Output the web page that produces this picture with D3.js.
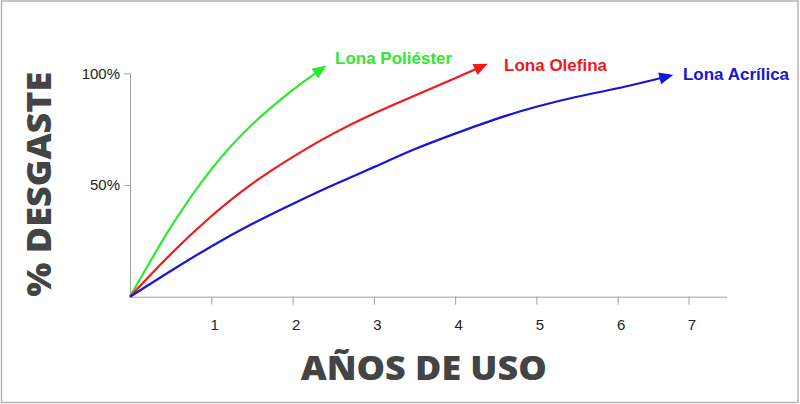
<!DOCTYPE html>
<html>
<head>
<meta charset="utf-8">
<script src="https://cdn.jsdelivr.net/npm/d3@7"></script>
<style>
  body { margin: 0; background: #fff; }
  svg { display: block; }
  .tick text { font-family: "Liberation Sans", Arial, sans-serif; fill: #222; }
  .domain, .tick line { stroke: #a0a0a0; }
</style>
</head>
<body>
<div id="chart-area"></div>
<script>
// data: wear (%) against years of use
const seriesNames = ["Lona Poliéster", "Lona Olefina", "Lona Acrílica"]
const seriesColors = ["#2ee82e", "#f01818", "#1515d8"]

const polyesterYears = [0, 0.5, 1, 1.5, 2, 2.28]
const polyesterWear = [0, 31, 57, 77, 92.5, 100]

const olefinYears = [0, 0.5, 1, 1.5, 2, 2.5, 3, 3.5, 4, 4.25]
const olefinWear = [0, 19, 36, 50.5, 62.5, 73, 82, 90, 97.8, 101.8]

const acrylicYears = [0, 0.5, 1, 1.5, 2, 2.5, 3, 3.5, 4, 4.5, 5, 5.5, 6, 6.6]
const acrylicWear = [0, 11.5, 22.5, 32.5, 41.5, 50, 58, 66, 73, 79.5, 85, 89.5, 93.3, 97.8]

const xTicks = [1, 2, 3, 4, 5, 6, 7]
const yTicks = [50, 100]
const yTickLabels = ["50%", "100%"]

const xTitle = "AÑOS DE USO"
const yTitle = "% DESGASTE"

// label offsets from the end of each line (px)
const labelOffsets = [[19.7, -9.3], [28.6, 2], [22.8, 1.8]]

function drawChart() {
    const svgWidth = 800
    const svgHeight = 404

    const dataset = [
        d3.zip(polyesterYears, polyesterWear),
        d3.zip(olefinYears, olefinWear),
        d3.zip(acrylicYears, acrylicWear)
    ]

    // the original x axis squeezes the last year a bit
    const xScale = d3.scaleLinear()
        .domain([0, 6, 7.54])
        .range([130, 617.7, 726.7])

    const yScale = d3.scaleLinear()
        .domain([0, 100])
        .range([296.7, 73.3])

    const svg = d3.select("#chart-area")
        .append("svg")
        .attr("width", svgWidth)
        .attr("height", svgHeight)

    // frame
    svg.append("rect")
        .attr("x", 1.5)
        .attr("y", 1)
        .attr("width", 796.5)
        .attr("height", 401.5)
        .attr("fill", "none")
        .attr("stroke", "#b4b4b4")
        .attr("stroke-width", 1.5)

    const defs = svg.append("defs")
    seriesColors.forEach((c, i) => {
        defs.append("marker")
            .attr("id", "arrow" + i)
            .attr("markerUnits", "userSpaceOnUse")
            .attr("markerWidth", 16)
            .attr("markerHeight", 14)
            .attr("refX", 0.5)
            .attr("refY", 7)
            .attr("orient", "auto")
            .style("overflow", "visible")
            .append("path")
            .attr("d", "M0,1 L14,7 L0,13 Z")
            .attr("fill", c)
    })

    const xAxis = svg.append("g")
        .attr("transform", `translate(0,${yScale(0)})`)
        .call(d3.axisBottom(xScale)
            .tickValues(xTicks)
            .tickFormat(d3.format("d"))
            .tickSize(8)
            .tickSizeOuter(0)
            .tickPadding(14.5))
    xAxis.selectAll(".tick text")
        .attr("font-size", 15)
        .attr("dx", 3)

    const yAxis = svg.append("g")
        .attr("transform", `translate(${xScale(0)},0)`)
        .call(d3.axisLeft(yScale)
            .tickValues(yTicks)
            .tickFormat((d, i) => yTickLabels[i])
            .tickSize(6)
            .tickSizeOuter(0)
            .tickPadding(4))
    yAxis.selectAll(".tick text")
        .attr("font-size", 15)

    const lineGenerator = d3.line()
        .x(d => xScale(d[0]))
        .y(d => yScale(d[1]))
        .curve(d3.curveNatural)

    svg.selectAll(".wear-line")
        .data(dataset)
        .join("path")
        .attr("class", "wear-line")
        .attr("d", lineGenerator)
        .attr("fill", "none")
        .attr("stroke", (d, i) => seriesColors[i])
        .attr("stroke-width", 2.2)
        .attr("marker-end", (d, i) => `url(#arrow${i})`)

    svg.selectAll(".series-label")
        .data(dataset)
        .join("text")
        .attr("class", "series-label")
        .attr("x", (d, i) => xScale(d[d.length - 1][0]) + labelOffsets[i][0])
        .attr("y", (d, i) => yScale(d[d.length - 1][1]) + labelOffsets[i][1])
        .attr("fill", (d, i) => seriesColors[i])
        .attr("font-family", "'Liberation Sans', Arial, sans-serif")
        .attr("font-weight", "bold")
        .attr("font-size", 17)
        .text((d, i) => seriesNames[i])

    // axis titles
    svg.append("text")
        .attr("x", 423.7)
        .attr("y", 380)
        .attr("text-anchor", "middle")
        .attr("font-family", "'Open Sans', sans-serif")
        .attr("font-weight", 800)
        .attr("font-size", 33)
        .attr("fill", "#444")
        .attr("textLength", 246)
        .attr("lengthAdjust", "spacingAndGlyphs")
        .text(xTitle)

    svg.append("text")
        .attr("transform", "translate(50.7,184.2) rotate(-90)")
        .attr("text-anchor", "middle")
        .attr("font-family", "'Open Sans', sans-serif")
        .attr("font-weight", 800)
        .attr("font-size", 33)
        .attr("fill", "#444")
        .attr("textLength", 225)
        .attr("lengthAdjust", "spacingAndGlyphs")
        .text(yTitle)
}

drawChart()
</script>
</body>
</html>
